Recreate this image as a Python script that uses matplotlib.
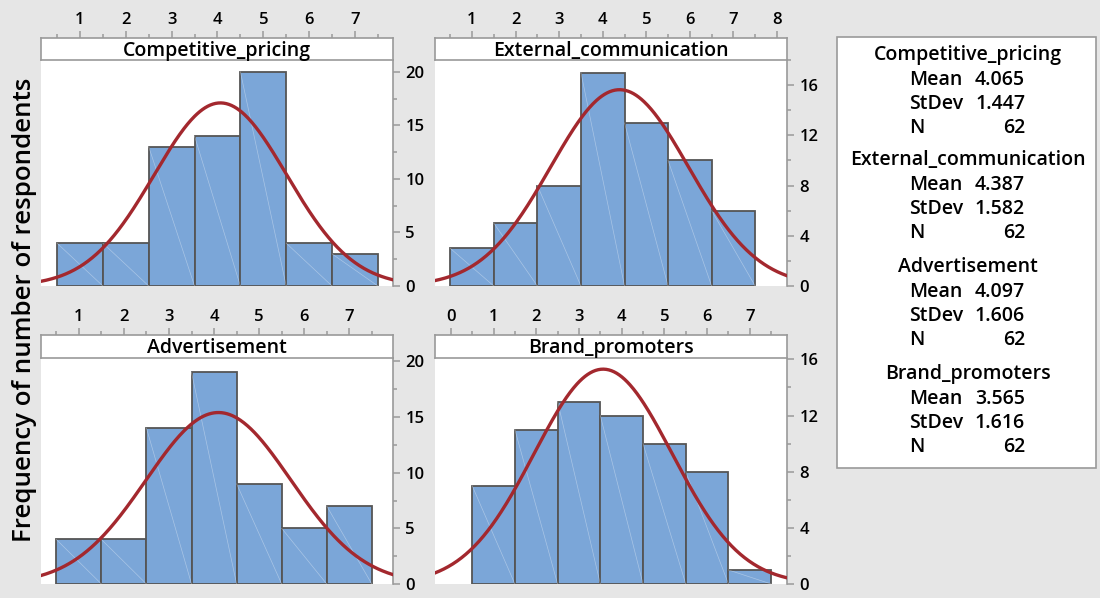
import numpy as np
import matplotlib.pyplot as plt
from matplotlib.patches import Rectangle
from matplotlib.ticker import MultipleLocator

# data
names = ['Competitive_pricing', 'External_communication', 'Advertisement', 'Brand_promoters']
bin_centers = [1, 2, 3, 4, 5, 6, 7]
counts_cp = [4, 4, 13, 14, 20, 4, 3]
counts_ec = [3, 5, 8, 17, 13, 10, 6]
counts_ad = [4, 4, 14, 19, 9, 5, 7]
counts_bp = [7, 11, 13, 12, 10, 8, 1]
means = [4.065, 4.387, 4.097, 3.565]
stdevs = [1.447, 1.582, 1.606, 1.616]
n_obs = [62, 62, 62, 62]

all_counts = [counts_cp, counts_ec, counts_ad, counts_bp]

W, H = 1100, 598
BG = '#e6e6e6'
BAR = '#7ba6d8'
EDGE = '#555555'
CURVE = '#a3282e'
SPINE = '#9a9a9a'

plt.rcParams['font.family'] = ['Open Sans', 'DejaVu Sans']
plt.rcParams['font.weight'] = 'semibold'

fig = plt.figure(figsize=(W / 100, H / 100), dpi=100)
fig.patch.set_facecolor(BG)

def box(x0, y0, x1, y1):
    # pixel box -> figure fraction
    return [x0 / W, 1 - y1 / H, (x1 - x0) / W, (y1 - y0) / H]

# panel layout (pixels): plot area, strip
plot_boxes = [(41, 60, 393, 286), (435, 60, 787, 286), (41, 358, 393, 584), (435, 358, 787, 584)]
strip_boxes = [(41, 38, 393, 60), (435, 38, 787, 60), (41, 335, 393, 358), (435, 335, 787, 358)]
xlims = [(0.15, 7.83), (0.15, 8.23), (0.16, 7.97), (-0.37, 7.87)]
ytops = [21.1, 18.0, 20.3, 16.1]
ysteps = [5, 4, 5, 4]

for i in range(4):
    ax = fig.add_axes(box(*plot_boxes[i]))
    st = fig.add_axes(box(*strip_boxes[i]))
    counts = all_counts[i]

    ax.bar(bin_centers, counts, width=1.0, color=BAR, edgecolor=EDGE, linewidth=1.3, zorder=2)
    # faint diagonal sheen lines inside each bar
    for c, h in zip(bin_centers, counts):
        ax.plot([c - 0.5, c + 0.5], [h, 0], color='white', lw=0.5, alpha=0.35, zorder=2.5)

    xs = np.linspace(xlims[i][0], xlims[i][1], 400)
    pdf = n_obs[i] * np.exp(-0.5 * ((xs - means[i]) / stdevs[i]) ** 2) / (stdevs[i] * np.sqrt(2 * np.pi))
    ax.plot(xs, pdf, color=CURVE, lw=2.4, zorder=3)

    ax.set_xlim(*xlims[i])
    ax.set_ylim(0, ytops[i])
    ax.set_facecolor('white')
    for s in ['left', 'top', 'bottom']:
        ax.spines[s].set_visible(False)
    ax.spines['right'].set_color(SPINE)
    ax.spines['right'].set_linewidth(1.2)
    ax.yaxis.tick_right()
    ax.yaxis.set_major_locator(MultipleLocator(ysteps[i]))
    ax.yaxis.set_minor_locator(MultipleLocator(ysteps[i] / 2))
    ax.tick_params(axis='y', which='major', length=5, width=1.1, color=SPINE, pad=4,
                   labelsize=12, labelcolor='black')
    ax.tick_params(axis='y', which='minor', length=3, width=1.1, color=SPINE)
    ax.tick_params(axis='x', which='both', bottom=False, labelbottom=False)

    # strip header with the top x axis
    st.set_xlim(*xlims[i])
    st.set_ylim(0, 1)
    st.set_facecolor('white')
    for s in st.spines.values():
        s.set_color(SPINE)
        s.set_linewidth(1.2)
    st.set_yticks([])
    st.xaxis.tick_top()
    st.xaxis.set_major_locator(MultipleLocator(1))
    st.xaxis.set_minor_locator(MultipleLocator(0.5))
    st.tick_params(axis='x', which='major', length=5, width=1.1, color=SPINE, pad=2,
                   labelsize=12, labelcolor='black')
    st.tick_params(axis='x', which='minor', length=3, width=1.1, color=SPINE)
    st.text(0.5, 0.42, names[i], transform=st.transAxes, ha='center', va='center',
            fontsize=14, fontweight='semibold')

fig.text(25 / W, 1 - 310 / H, 'Frequency of number of respondents', rotation=90,
         ha='center', va='center', fontsize=18.6, fontweight='semibold')

# statistics box on the right
fig.patches.append(Rectangle((837 / W, 1 - 468 / H), (1096 - 837) / W, (468 - 37) / H,
                             transform=fig.transFigure, facecolor='white',
                             edgecolor=SPINE, linewidth=1.2))
title_y = [55, 160, 267, 374]
for i in range(4):
    y0 = title_y[i]
    fig.text(968 / W, 1 - y0 / H, names[i], ha='center', va='center', fontsize=14,
             fontweight='semibold')
    rows = [('Mean', f'{means[i]:.3f}'), ('StDev', f'{stdevs[i]:.3f}'), ('N', f'{n_obs[i]}')]
    for k, (lab, val) in enumerate(rows):
        yy = y0 + 25 + 24 * k
        fig.text(909 / W, 1 - yy / H, lab, ha='left', va='center', fontsize=14,
                 fontweight='semibold')
        fig.text(1025 / W, 1 - yy / H, val, ha='right', va='center', fontsize=14,
                 fontweight='semibold')

fig.savefig('out.png', dpi=100, facecolor=BG)
